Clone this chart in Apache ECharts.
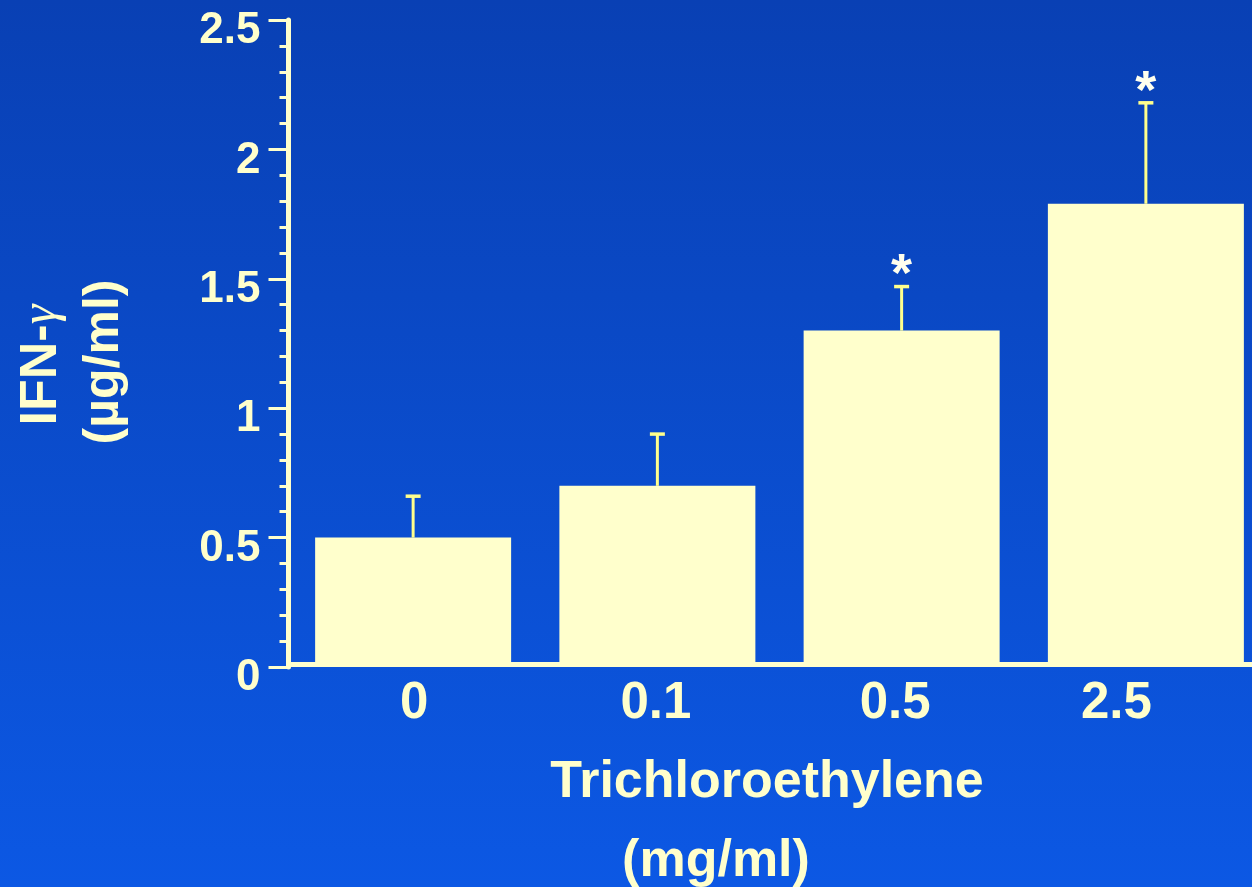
<!DOCTYPE html>
<html>
<head>
<meta charset="utf-8">
<script src="https://cdn.jsdelivr.net/npm/echarts@6/dist/echarts.min.js"></script>
<style>
html,body{margin:0;padding:0;width:1252px;height:887px;overflow:hidden;}
#chart{width:1268px;height:887px;}
</style>
</head>
<body>
<div id="chart"></div>
<script>
// ---- data ----
const categories = ['0', '0.1', '0.5', '2.5'];
const means = [0.50, 0.70, 1.30, 1.79];
const upperErr = [0.66, 0.90, 1.47, 2.18];
const significance = ['', '', '*', '*'];
const xTitle = 'Trichloroethylene';
const xUnit = '(mg/ml)';
const yTitle = 'IFN-';
const yGreek = 'γ';
const yUnit = '(µg/ml)';

const cream = '#ffffcc';
const errColor = '#ffff8c';
const FONT = '"Liberation Sans", Arial, sans-serif';

const chart = echarts.init(document.getElementById('chart'));

const labelShift = {'0': 'c0', '0.1': 'c1', '0.5': 'c2', '2.5': 'c3'};
const xl = {fontFamily: FONT, fontWeight: 'bold', fontSize: 51, color: cream, lineHeight: 52};

const option = {
  animation: false,
  backgroundColor: new echarts.graphic.LinearGradient(0, 0, 0, 1, [
    {offset: 0, color: '#0940b4'},
    {offset: 1, color: '#0c58e4'}
  ]),
  grid: {left: 291, top: 20, right: 0, bottom: 220, containLabel: false},
  xAxis: {
    type: 'category',
    data: categories,
    offset: -3,
    axisLine: {lineStyle: {color: cream, width: 5}},
    axisTick: {show: false},
    axisLabel: {
      margin: 14,
      formatter: v => '{' + labelShift[v] + '|' + v + '}',
      rich: {
        c0: Object.assign({padding: [0, 0, 0, 2]}, xl),
        c1: Object.assign({padding: [0, 3, 0, 0]}, xl),
        c2: Object.assign({padding: [0, 13, 0, 0]}, xl),
        c3: Object.assign({padding: [0, 59, 0, 0]}, xl)
      }
    },
    splitLine: {show: false}
  },
  yAxis: {
    type: 'value',
    min: 0,
    max: 2.5,
    interval: 0.5,
    offset: 2.5,
    axisLine: {show: true, lineStyle: {color: cream, width: 5}},
    axisTick: {show: true, length: 20, lineStyle: {color: cream, width: 3}},
    minorTick: {show: true, splitNumber: 5, length: 9, lineStyle: {color: cream, width: 3}},
    splitLine: {show: false},
    axisLabel: {
      margin: 28,
      color: cream,
      fontFamily: FONT,
      fontWeight: 'bold',
      fontSize: 44,
      verticalAlign: 'top',
      lineHeight: 22,
      formatter: v => String(v)
    }
  },
  graphic: [
    {
      type: 'text', x: 767, y: 783,
      style: {text: xTitle, fill: cream, font: 'bold 52px ' + FONT, align: 'center', verticalAlign: 'middle'}
    },
    {
      type: 'text', x: 716, y: 862,
      style: {text: xUnit, fill: cream, font: 'bold 52px ' + FONT, align: 'center', verticalAlign: 'middle'}
    },
    {
      type: 'text', x: 16, y: 365, rotation: Math.PI / 2,
      style: {
        text: '{a|' + yTitle + '}{g|' + yGreek + '}',
        align: 'center', verticalAlign: 'top',
        rich: {
          a: {fontFamily: FONT, fontWeight: 'bold', fontSize: 52, fill: cream},
          g: {fontFamily: '"Liberation Serif", serif', fontStyle: 'italic', fontSize: 50, fill: cream}
        }
      }
    },
    {
      type: 'text', x: 79, y: 362, rotation: Math.PI / 2,
      style: {text: yUnit, fill: cream, font: 'bold 50px ' + FONT, align: 'center', verticalAlign: 'top'}
    }
  ],
  series: [
    {
      type: 'bar',
      data: means,
      barWidth: 196,
      itemStyle: {color: cream},
      z: 2
    },
    {
      type: 'custom',
      z: 3,
      data: means.map((m, i) => [i, m, upperErr[i]]),
      renderItem: function (params, api) {
        const i = api.value(0);
        const top = api.coord([i, api.value(1)]);
        const hi = api.coord([i, api.value(2)]);
        const x = top[0];
        const children = [
          {type: 'line', shape: {x1: x, y1: top[1], x2: x, y2: hi[1]}, style: {stroke: errColor, lineWidth: 3}},
          {type: 'line', shape: {x1: x - 7.5, y1: hi[1], x2: x + 7.5, y2: hi[1]}, style: {stroke: errColor, lineWidth: 3.5}}
        ];
        const mark = significance[params.dataIndex];
        if (mark) {
          children.push({
            type: 'text', x: x, y: hi[1] - 10,
            style: {text: mark, fill: '#ffffee', font: 'bold 54px ' + FONT, align: 'center', verticalAlign: 'middle'}
          });
        }
        return {type: 'group', children: children};
      }
    }
  ]
};
chart.setOption(option);
</script>
</body>
</html>
